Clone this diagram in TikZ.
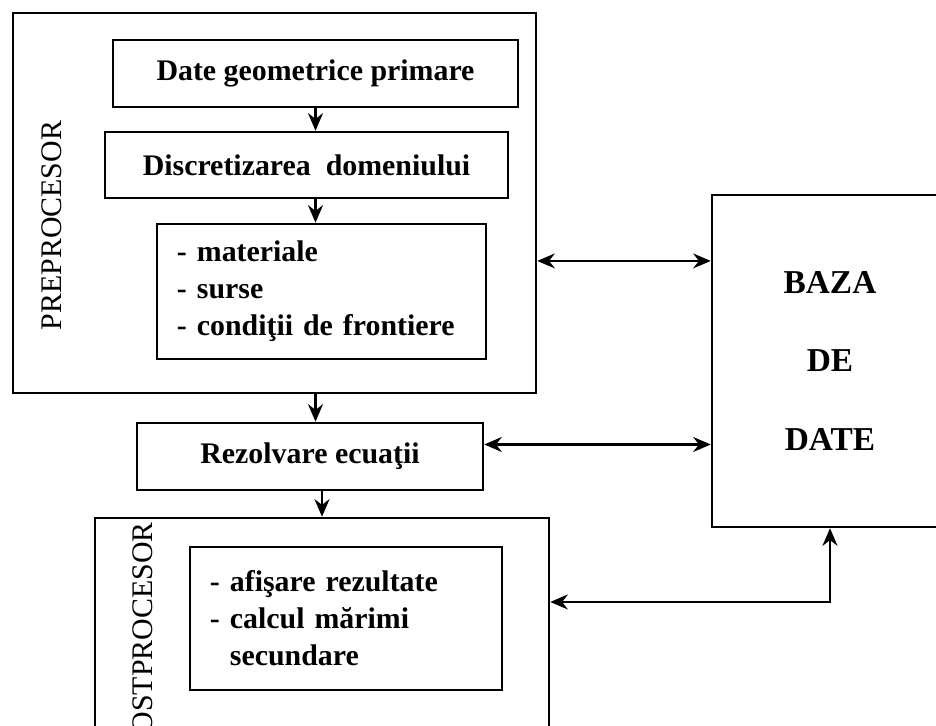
\documentclass[tikz,border=0pt]{standalone}
\usepackage{fontspec}
\setmainfont{Liberation Serif}
\usetikzlibrary{arrows.meta}
\tikzset{
	block/.style = {draw, line width = 1.4pt, font = \fontsize{17}{21}\selectfont\bfseries},
	sidelabel/.style = {rotate = 90, inner sep = 0pt, font = \fontsize{17}{20}\selectfont},
	link/.style = {line width = 1.4pt, -{Stealth[length = 10pt, width = 8.5pt]}},
	both/.style = {line width = 1.4pt, {Stealth[length = 10pt, width = 8.5pt]}-{Stealth[length = 10pt, width = 8.5pt]}},
}
\begin{document}
\begin{tikzpicture}
		\useasboundingbox (0,0) rectangle (18.72,14.52);
		\clip (0,0) rectangle (18.72,14.52);
		\node [block, minimum width = 10.46cm, minimum height = 7.6cm](pre) at (5.49,10.46) {};
		\node [sidelabel](pre_label) at (1.04,10.01) {PREPROCESOR};
		\node [block, minimum width = 8.1cm, minimum height = 1.34cm](date) at (6.31,13.05) {Date geometrice primare};
		\node [block, minimum width = 8.06cm, minimum height = 1.32cm](discr) at (6.13,11.22) {Discretizarea\ \ domeniului};
		\node [block, text width = 5.78cm, inner xsep = 0.4cm, minimum height = 2.7cm, align = left](mat) at (6.43,8.69) {- materiale\\- surse\\- condiţii de frontiere};
		\node [block, minimum width = 6.92cm, minimum height = 1.34cm](rez) at (6.2,5.39) {Rezolvare ecuaţii};
		\node [block, minimum width = 9.08cm, minimum height = 4.84cm](post) at (6.44,1.74) {};
		\node [sidelabel, anchor = east](post_label) at (2.86,4.08) {POSTPROCESOR};
		\node [block, text width = 5.44cm, inner xsep = 0.4cm, minimum height = 2.86cm, align = left](afis) at (6.92,2.15) {- afişare rezultate\\- calcul mărimi\\\phantom{- }secundare};
		\node [block, minimum width = 4.72cm, minimum height = 6.64cm, align = center, font = \fontsize{19}{44.7}\selectfont\bfseries](baza) at (16.6,7.3) {BAZA\\DE\\DATE};
		\coordinate (bend) at (16.6,2.48);
		\draw [link] (date.south) -- (date.south |- discr.north);
		\draw [link] (date.south |- discr.south) -- (date.south |- mat.north);
		\draw [link] (date.south |- pre.south) -- (date.south |- rez.north);
		\draw [link] (post.north |- rez.south) -- (post.north);
		\draw [both] (pre.east |- baza.140) -- (baza.140);
		\draw [both] (rez.east |- baza.215) -- (baza.215);
		\draw [both] (post.east |- bend) -- (bend) -- (baza.south);
		\end{tikzpicture}
\end{document}
